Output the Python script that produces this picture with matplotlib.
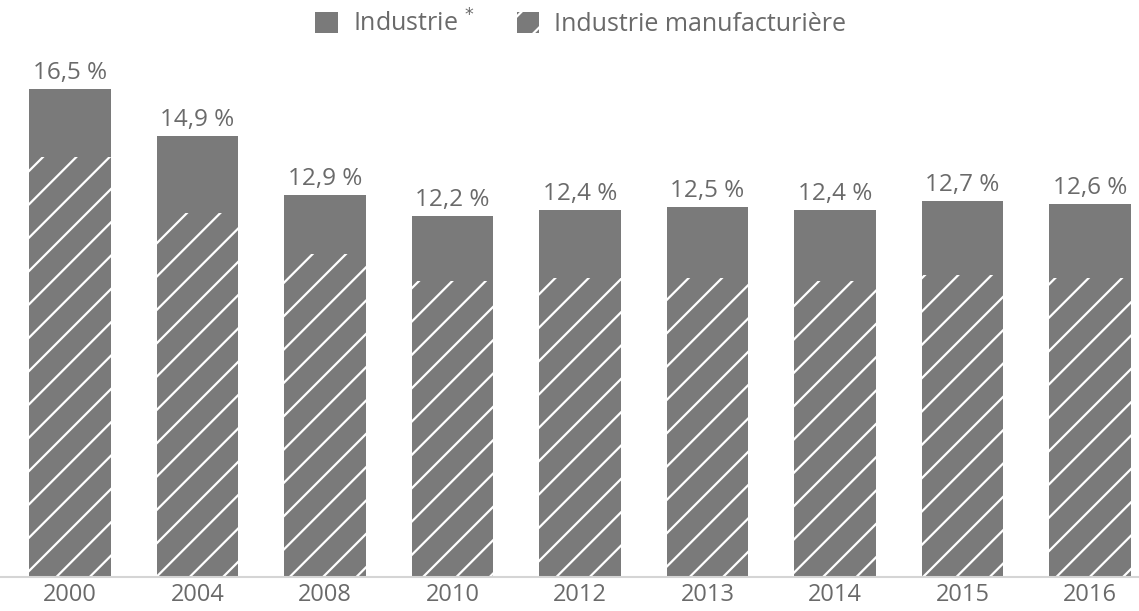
import matplotlib.pyplot as plt
import numpy as np

years = ["2000", "2004", "2008", "2010", "2012", "2013", "2014", "2015", "2016"]
industrie = [16.5, 14.9, 12.9, 12.2, 12.4, 12.5, 12.4, 12.7, 12.6]
manufacturiere = [14.2, 12.3, 10.9, 10.0, 10.1, 10.1, 10.0, 10.2, 10.1]
value_labels = ["16,5 %", "14,9 %", "12,9 %", "12,2 %", "12,4 %", "12,5 %", "12,4 %", "12,7 %", "12,6 %"]

BAR_COLOR = "#7a7a7a"
TEXT_COLOR = "#6a6a6a"

plt.rcParams['font.family'] = ['Open Sans', 'DejaVu Sans']
plt.rcParams['hatch.color'] = 'white'
plt.rcParams['hatch.linewidth'] = 1.6

fig = plt.figure(figsize=(11.39, 6.11), dpi=100)
ax = fig.add_axes([0, 34/611, 1, 577/611])

x = np.arange(len(years))
width = 0.64
b1 = ax.bar(x, industrie, width, color=BAR_COLOR, linewidth=0, label="Industrie $^{*}$")
b2 = ax.bar(x, manufacturiere, width, color=BAR_COLOR, edgecolor='white', linewidth=0,
            hatch='/', label="Industrie manufacturière")

for xi, v, lab in zip(x, industrie, value_labels):
    ax.annotate(lab, xy=(xi, v), xytext=(0, 3), textcoords="offset points",
                ha='center', va='bottom', fontsize=17.5, color=TEXT_COLOR)

ax.set_xlim(-0.549, 8.384)
ax.set_ylim(0, 19.5)
ax.set_xticks(x)
ax.set_xticklabels(years, fontsize=17, color=TEXT_COLOR)
ax.tick_params(axis='x', length=0, pad=4)
ax.set_yticks([])
for s in ['top', 'right', 'left']:
    ax.spines[s].set_visible(False)
ax.spines['bottom'].set_color('#d5d5d5')
ax.spines['bottom'].set_linewidth(1.5)

fig.legend(handles=[b1, b2], loc='upper center', bbox_to_anchor=(0.51, 1.02), ncol=2,
           frameon=False, fontsize=18, labelcolor=TEXT_COLOR, handlelength=0.9,
           handleheight=0.9, columnspacing=1.7, handletextpad=0.6)

plt.savefig("out.png", dpi=100)
